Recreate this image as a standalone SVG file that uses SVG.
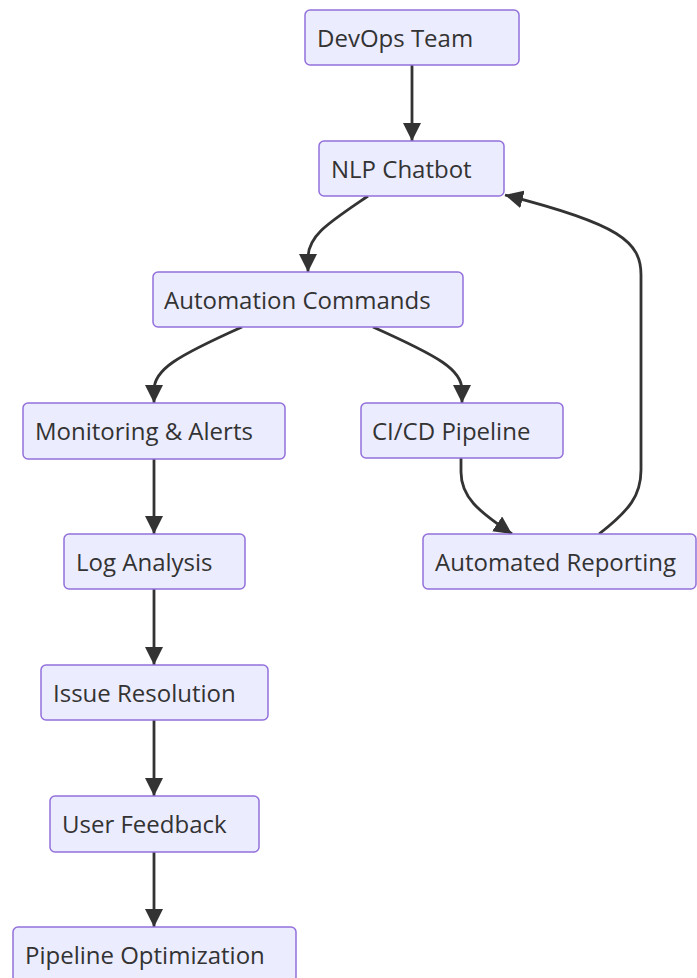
<svg xmlns="http://www.w3.org/2000/svg" width="697" height="978" viewBox="0 0 697 978">
  <style>
    .node rect { fill: #ECECFF; stroke: #9370DB; stroke-width: 1.5; }
    .node text { font-family: "Open Sans", "Noto Sans", "DejaVu Sans", sans-serif; font-size: 24px; fill: #333333; }
    .edge { fill: none; stroke: #333333; stroke-width: 2.8; }
  </style>
  <defs>
    <marker id="arrow" viewBox="0 0 10 10" refX="10" refY="5" markerWidth="18" markerHeight="18" markerUnits="userSpaceOnUse" orient="auto">
      <path d="M0,0 L10,5 L0,10 z" fill="#333333"/>
    </marker>
  </defs>
  <rect width="697" height="978" fill="#ffffff"/>

  <g id="connectors">
    <path class="edge" marker-end="url(#arrow)" d="M412,65 L412,141"/>
    <path class="edge" marker-end="url(#arrow)" d="M368,196 C330,222 308,235 308,258 L308,272"/>
    <path class="edge" marker-end="url(#arrow)" d="M242,327 C175,357 154,370 154,390 L154,403"/>
    <path class="edge" marker-end="url(#arrow)" d="M373,327 C440,357 462,370 462,390 L462,403"/>
    <path class="edge" marker-end="url(#arrow)" d="M154,459 L154,534"/>
    <path class="edge" marker-end="url(#arrow)" d="M461,458 L461,472 C461,497 478,511 512,534"/>
    <path class="edge" marker-end="url(#arrow)" d="M599,534 C630,510 641,495 641,470 L641,275 C641,242 620,224 505,195"/>
    <path class="edge" marker-end="url(#arrow)" d="M154,589 L154,665"/>
    <path class="edge" marker-end="url(#arrow)" d="M154,720 L154,796"/>
    <path class="edge" marker-end="url(#arrow)" d="M154,852 L154,927"/>
  </g>

  <g id="devops-team" class="node">
    <rect x="305" y="10" width="214" height="55" rx="5"/>
    <text x="317" y="46.5">DevOps Team</text>
  </g>
  <g id="nlp-chatbot" class="node">
    <rect x="319" y="141" width="185" height="55" rx="5"/>
    <text x="331" y="177.5">NLP Chatbot</text>
  </g>
  <g id="automation-commands" class="node">
    <rect x="153" y="272" width="310" height="55" rx="5"/>
    <text x="164" y="308.5">Automation Commands</text>
  </g>
  <g id="monitoring-alerts" class="node">
    <rect x="23" y="403" width="262" height="56" rx="5"/>
    <text x="35" y="439.5">Monitoring &amp; Alerts</text>
  </g>
  <g id="cicd-pipeline" class="node">
    <rect x="361" y="403" width="202" height="55" rx="5"/>
    <text x="372" y="439.5">CI/CD Pipeline</text>
  </g>
  <g id="log-analysis" class="node">
    <rect x="64" y="534" width="181" height="55" rx="5"/>
    <text x="76" y="570.5">Log Analysis</text>
  </g>
  <g id="automated-reporting" class="node">
    <rect x="423" y="534" width="273" height="55" rx="5"/>
    <text x="435" y="570.5">Automated Reporting</text>
  </g>
  <g id="issue-resolution" class="node">
    <rect x="41" y="665" width="227" height="55" rx="5"/>
    <text x="53" y="701.5">Issue Resolution</text>
  </g>
  <g id="user-feedback" class="node">
    <rect x="50" y="796" width="209" height="56" rx="5"/>
    <text x="62" y="832.5">User Feedback</text>
  </g>
  <g id="pipeline-optimization" class="node">
    <rect x="13" y="927" width="283" height="55" rx="5"/>
    <text x="25" y="963.5">Pipeline Optimization</text>
  </g>
</svg>
